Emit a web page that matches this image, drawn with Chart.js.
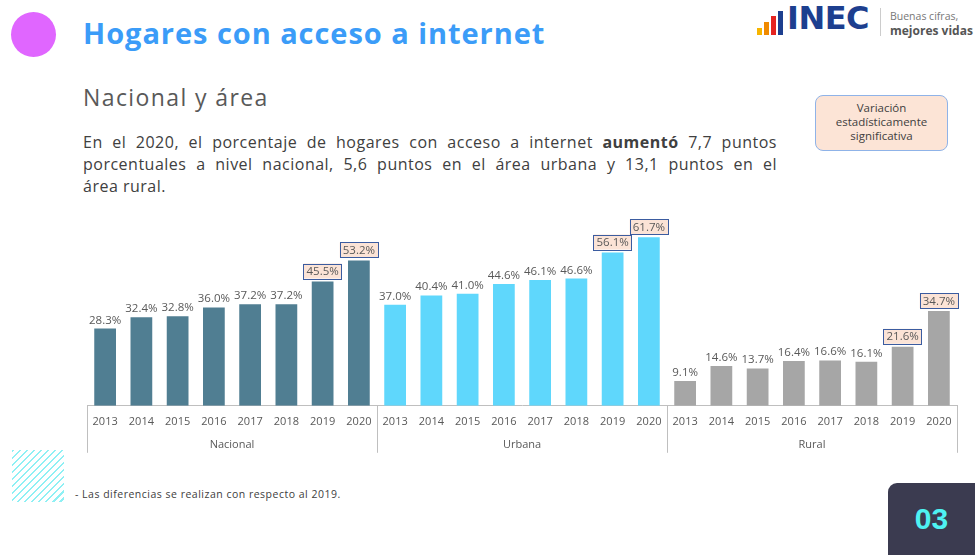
<!DOCTYPE html>
<html>
<head>
<meta charset="utf-8">
<script src="https://cdn.jsdelivr.net/npm/chart.js@4"></script>
<style>
  body { margin: 0; width: 975px; height: 555px; background: #fff; position: relative; overflow: hidden; font-family: "Open Sans", "DejaVu Sans", sans-serif; }
  .abs { position: absolute; white-space: nowrap; }
  #circulo { left: 11px; top: 12px; width: 45px; height: 45px; border-radius: 50%; background: #e066ff; }
  #titulo { left: 83px; top: 13px; font-size: 29px; font-weight: bold; color: #3b9cf8; letter-spacing: 0.95px; }
  #subtitulo { left: 83px; top: 81px; font-size: 23px; color: #595959; letter-spacing: 1.4px; }
  #parrafo { left: 83px; top: 131px; width: 694px; font-size: 16px; line-height: 22px; color: #404040; letter-spacing: 0.5px; white-space: normal; }
  #parrafo span { display: block; text-align: justify; text-align-last: justify; }
  #parrafo span.ult { text-align-last: left; }
  #leyenda { left: 815px; top: 95px; width: 133px; height: 56px; box-sizing: border-box; border: 1px solid #8fb3e8; border-radius: 8px; background: #fce4d6; font-size: 11.5px; line-height: 14px; color: #404040; text-align: center; padding-top: 5px; }
  #logo { left: 757px; top: 6px; height: 32px; width: 215px; }
  .barra { position: absolute; bottom: 3px; width: 5px; }
  #inec { left: 30px; top: -7px; font-size: 32px; font-weight: bold; color: #1d3f8f; letter-spacing: -0.5px; font-family: "DejaVu Sans", sans-serif; }
  #sep { left: 123px; top: 2px; width: 1px; height: 28px; background: #ccc; }
  #buenas { left: 133px; top: 3px; font-size: 10.5px; color: #777; }
  #mejores { left: 133px; top: 16px; font-size: 12px; font-weight: bold; color: #555; }
  #rayas { left: 12px; top: 450px; width: 52px; height: 52px; background: repeating-linear-gradient(135deg, #8ff0f4 0 1.5px, #fff 1.5px 5px); }
  #nota { left: 75px; top: 487px; font-size: 10.5px; color: #404040; letter-spacing: 0.5px; }
  #pagina { left: 888px; top: 483px; width: 87px; height: 80px; background: #3b3b50; border-radius: 9px 0 0 0; color: #4ef2f2; font-size: 30px; font-weight: bold; text-align: center; line-height: 72px; font-family: "Liberation Sans", sans-serif; }
  #lienzo { left: 0; top: 200px; width: 975px; height: 265px; }
</style>
</head>
<body>
<div id="circulo" class="abs"></div>
<div id="titulo" class="abs">Hogares con acceso a internet</div>
<div id="subtitulo" class="abs">Nacional y área</div>
<div id="parrafo" class="abs">
  <span>En el 2020, el porcentaje de hogares con acceso a internet <b>aumentó</b> 7,7 puntos</span>
  <span>porcentuales a nivel nacional, 5,6 puntos en el área urbana y 13,1 puntos en el</span>
  <span class="ult">área rural.</span>
</div>
<div id="leyenda" class="abs">Variación<br>estadísticamente<br>significativa</div>
<div id="logo" class="abs">
  <div class="barra" style="left:0;height:7px;background:#f7b500"></div>
  <div class="barra" style="left:7px;height:13px;background:#f08a00"></div>
  <div class="barra" style="left:14px;height:19px;background:#e52421"></div>
  <div class="barra" style="left:21px;height:24px;background:#1d3f8f"></div>
  <div id="inec" class="abs">INEC</div>
  <div id="sep" class="abs"></div>
  <div id="buenas" class="abs">Buenas cifras,</div>
  <div id="mejores" class="abs">mejores vidas</div>
</div>
<div id="rayas" class="abs"></div>
<div id="nota" class="abs">- Las diferencias se realizan con respecto al 2019.</div>
<div id="pagina" class="abs">03</div>
<div id="lienzo" class="abs"><canvas id="grafico"></canvas></div>

<script>
// Datos
const anios = ["2013", "2014", "2015", "2016", "2017", "2018", "2019", "2020"];
const grupos = ["Nacional", "Urbana", "Rural"];
const nacional = [28.3, 32.4, 32.8, 36.0, 37.2, 37.2, 45.5, 53.2];
const urbana = [37.0, 40.4, 41.0, 44.6, 46.1, 46.6, 56.1, 61.7];
const rural = [9.1, 14.6, 13.7, 16.4, 16.6, 16.1, 21.6, 34.7];
const significativo = [false, false, false, false, false, false, true, true];
const coloresGrupo = ["#507e92", "#5fd7fc", "#a6a6a6"];

const series = [nacional, urbana, rural];
const etiquetas = [];
const valores = [];
const colores = [];
const marcados = [];
series.forEach((serie, g) => {
  serie.forEach((v, i) => {
    etiquetas.push(anios[i]);
    valores.push(v);
    colores.push(coloresGrupo[g]);
    marcados.push(significativo[i]);
  });
});

const fuente = '"Open Sans", "DejaVu Sans", sans-serif';

// etiquetas de valor sobre las barras
const etiquetasValor = {
  id: "etiquetasValor",
  afterDatasetsDraw(chart) {
    const ctx = chart.ctx;
    const meta = chart.getDatasetMeta(0);
    ctx.save();
    ctx.font = "11.5px " + fuente;
    ctx.textAlign = "center";
    ctx.textBaseline = "alphabetic";
    meta.data.forEach((bar, i) => {
      const txt = valores[i].toFixed(1) + "%";
      if (marcados[i]) {
        const w = ctx.measureText(txt).width + 6;
        const h = 15;
        const y0 = bar.y - 3 - h;
        ctx.fillStyle = "#fbe3d6";
        ctx.fillRect(bar.x - w / 2, y0, w, h);
        ctx.strokeStyle = "#3b5ca0";
        ctx.lineWidth = 1;
        ctx.strokeRect(Math.round(bar.x - w / 2) + 0.5, Math.round(y0) + 0.5, Math.round(w), h);
        ctx.fillStyle = "#595959";
        ctx.fillText(txt, bar.x, y0 + 11.5);
      } else {
        ctx.fillStyle = "#595959";
        ctx.fillText(txt, bar.x, bar.y - 5);
      }
    });
    ctx.restore();
  }
};

// separadores y nombres de grupo bajo el eje
const gruposEje = {
  id: "gruposEje",
  afterDraw(chart) {
    const ctx = chart.ctx;
    const x = chart.scales.x;
    const base = chart.chartArea.bottom;
    const ancho = x.getPixelForValue(1) - x.getPixelForValue(0);
    ctx.save();
    ctx.strokeStyle = "#bfbfbf";
    ctx.lineWidth = 1;
    for (let g = 0; g <= grupos.length; g++) {
      const px = Math.round(x.getPixelForValue(g * anios.length) - ancho / 2) + 0.5;
      ctx.beginPath();
      ctx.moveTo(px, base);
      ctx.lineTo(px, base + 47);
      ctx.stroke();
    }
    ctx.fillStyle = "#595959";
    ctx.font = "11px " + fuente;
    ctx.textAlign = "center";
    ctx.textBaseline = "middle";
    grupos.forEach((nombre, g) => {
      const a = x.getPixelForValue(g * anios.length);
      const b = x.getPixelForValue(g * anios.length + anios.length - 1);
      ctx.fillText(nombre, (a + b) / 2, base + 39);
    });
    ctx.restore();
  }
};

new Chart(document.getElementById("grafico"), {
  type: "bar",
  data: {
    labels: etiquetas,
    datasets: [{
      data: valores,
      backgroundColor: colores,
      barPercentage: 0.6,
      categoryPercentage: 1
    }]
  },
  options: {
    responsive: true,
    maintainAspectRatio: false,
    animation: false,
    layout: { padding: { left: 87, right: 18, top: 14.6, bottom: 28 } },
    plugins: { legend: { display: false }, tooltip: { enabled: false } },
    scales: {
      y: { display: false, min: 0, max: 70 },
      x: {
        grid: { display: false, drawTicks: false },
        border: { display: true, color: "#bfbfbf" },
        ticks: { color: "#595959", font: { size: 11, family: fuente }, padding: 9, autoSkip: false, maxRotation: 0 }
      }
    }
  },
  plugins: [etiquetasValor, gruposEje]
});
</script>
</body>
</html>
